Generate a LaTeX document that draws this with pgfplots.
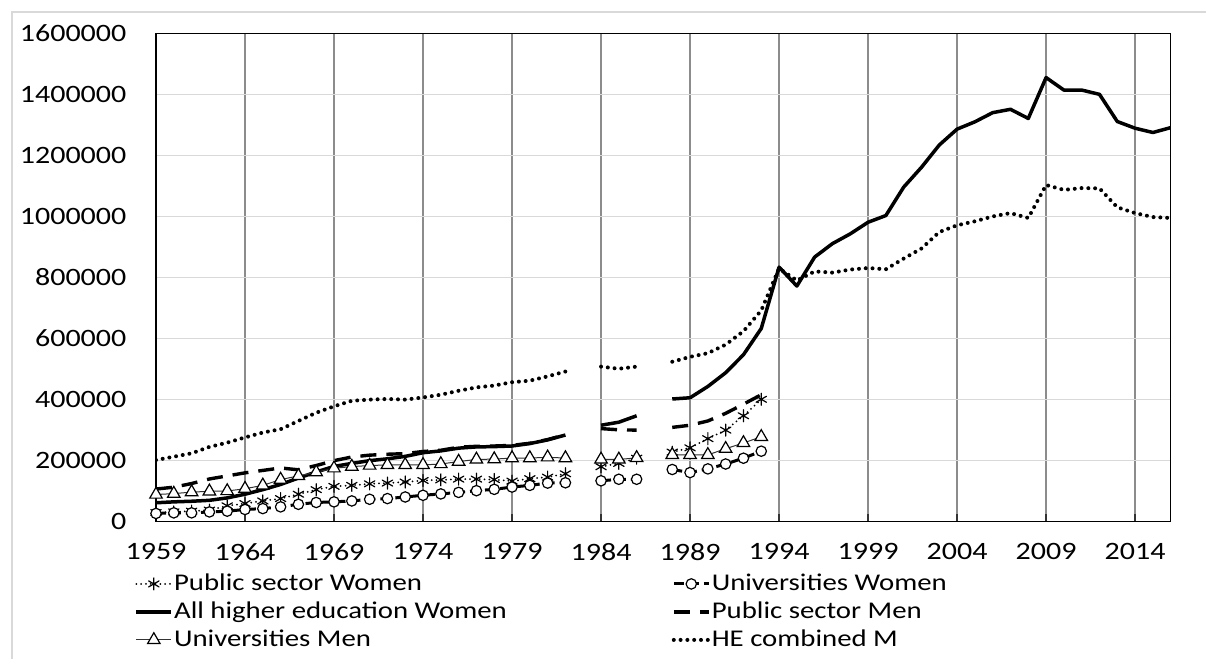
\documentclass[border=0pt]{standalone}
\usepackage{fontspec}
\setmainfont{Carlito}[FakeStretch=1.2]
\usepackage{pgfplots}
\pgfplotsset{compat=1.18}
\usepackage{pgfplotstable}

\pgfplotstableread{
year psw uw hew psm um hem
1959 30000 27000 62000 107000 89000 202000
1960 32000 29000 65000 113000 92000 213000
1961 34500 29000 67000 125000 97000 224000
1962 38000 32000 70000 140000 99500 245000
1963 52000 34500 78000 150000 100500 259000
1964 59500 40000 90000 160000 108000 276000
1965 68000 43000 105000 168000 119000 292000
1966 75700 48600 122000 176000 138000 303000
1967 90000 57000 143000 170000 150000 330000
1968 105000 63000 163000 184000 162000 357000
1969 115700 65000 181000 200000 175000 378000
1970 119000 68000 191000 212000 180500 396000
1971 124000 73500 200000 218000 184000 400000
1972 126500 75700 206000 221000 186000 402000
1973 130000 81000 214000 223000 186000 400000
1974 135000 86500 226000 230000 186000 407000
1975 137000 91000 232000 234000 189000 416000
1976 139500 96000 241000 244000 197000 429000
1977 139500 101600 245000 247000 204000 440000
1978 138000 106000 246000 248000 205000 446000
1979 133000 113500 248000 250000 208500 457000
1980 141000 119000 256000 257000 208500 462000
1981 146000 126500 268000 269000 211000 476000
1982 157000 127500 284000 285000 208500 492000
1983 nan nan nan nan nan nan
1984 180000 134000 316000 305000 204000 508000
1985 191000 139000 326000 301000 204000 501000
1986 208000 139000 347000 300000 209000 508000
1987 nan nan nan nan nan nan
1988 228000 171000 402000 309000 219000 524000
1989 242000 161000 406000 316000 219000 540000
1990 272000 173000 443000 330000 219000 552000
1991 300000 189000 488000 355000 239000 580000
1992 347000 208000 547000 385000 258000 624000
1993 401000 231000 633000 416000 278000 692000
1994 nan nan 834000 nan nan 830000
1995 nan nan 772000 nan nan 790000
1996 nan nan 867000 nan nan 820000
1997 nan nan 911000 nan nan 816000
1998 nan nan 943000 nan nan 826000
1999 nan nan 981000 nan nan 831000
2000 nan nan 1003000 nan nan 827000
2001 nan nan 1096000 nan nan 862000
2002 nan nan 1161000 nan nan 895000
2003 nan nan 1234000 nan nan 949000
2004 nan nan 1286000 nan nan 971000
2005 nan nan 1310000 nan nan 984000
2006 nan nan 1340000 nan nan 1000000
2007 nan nan 1351000 nan nan 1011000
2008 nan nan 1321000 nan nan 995000
2009 nan nan 1455000 nan nan 1103000
2010 nan nan 1414000 nan nan 1087000
2011 nan nan 1414000 nan nan 1093000
2012 nan nan 1400000 nan nan 1092000
2013 nan nan 1311000 nan nan 1030000
2014 nan nan 1289000 nan nan 1011000
2015 nan nan 1275000 nan nan 998000
2016 nan nan 1291000 nan nan 995000
}\datatable

\definecolor{outerframe}{RGB}{217,217,217}
\definecolor{hgrid}{RGB}{217,217,217}
\definecolor{vgrid}{RGB}{140,140,140}

\begin{document}
\begin{tikzpicture}
\path[use as bounding box] (0,0) rectangle (603pt,329.5pt);
\draw[outerframe, line width=0.6pt] (6pt,0) -- (6pt,323.5pt) -- (603pt,323.5pt);
\begin{axis}[
  at={(78pt,68.65pt)}, anchor=south west,
  scale only axis, width=507.35pt, height=244.2pt,
  xmin=1959, xmax=2016, ymin=0, ymax=1600000,
  xtick={1959,1964,...,2014},
  ytick={0,200000,...,1600000},
  scaled y ticks=false,
  /pgf/number format/1000 sep={},
  /pgf/number format/fixed,
  /pgf/number format/assume math mode=true,
  xmajorgrids, ymajorgrids,
  x grid style={vgrid, line width=0.6pt},
  y grid style={hgrid, line width=0.6pt},
  axis line style={black, line width=0.7pt},
  xtick pos=lower, tick align=inside,
  major tick length=4pt,
  xtick style={black!80, line width=0.6pt},
  ytick style={draw=none},
  tick label style={font=\fontsize{12.5}{15}\selectfont, black},
  xticklabel style={yshift=-7.5pt},
  yticklabel style={xshift=-11.3pt},
  unbounded coords=jump,
  legend columns=2,
  legend image code/.code={\draw[mark repeat=2,mark phase=2,#1] plot coordinates {(0pt,0pt) (8.75pt,0pt) (17.5pt,0pt)};},
  legend style={at={(-0.0215,-0.101)}, anchor=north west, draw=none, fill=none,
    font=\fontsize{12}{14}\selectfont, inner sep=0pt, row sep=1.5pt,
    /tikz/every even column/.append style={column sep=82pt},
    cells={anchor=west},
    nodes={inner sep=0.5pt, text height=9pt, text depth=2.5pt}},
]
\addplot[black, line width=1pt, dash pattern=on 0pt off 2.4pt, line cap=round,
  mark=asterisk, mark size=3pt, mark options={solid, line width=0.6pt}]
  table[x=year, y=psw] {\datatable};
\addlegendentry{Public sector Women}
\addplot[black, line width=1.5pt, dash pattern=on 5pt off 2.5pt,
  mark=*, mark size=2.6pt, mark options={solid, fill=white, draw=black, line width=0.6pt}]
  table[x=year, y=uw] {\datatable};
\addlegendentry{Universities Women}
\addplot[black, line width=1.75pt, line join=round]
  table[x=year, y=hew] {\datatable};
\addlegendentry{All higher education Women}
\addplot[black, line width=1.7pt, dash pattern=on 8pt off 5pt]
  table[x=year, y=psm] {\datatable};
\addlegendentry{Public sector Men}
\addplot[black!80, line width=0.5pt,
  mark=triangle*, mark size=3.6pt, mark options={solid, fill=white, draw=black, line width=0.6pt}]
  table[x=year, y=um] {\datatable};
\addlegendentry{Universities Men}
\addplot[black, line width=2pt, dash pattern=on 0pt off 3.4pt, line cap=round]
  table[x=year, y=hem] {\datatable};
\addlegendentry{HE combined M}
\end{axis}
\end{tikzpicture}
\end{document}
